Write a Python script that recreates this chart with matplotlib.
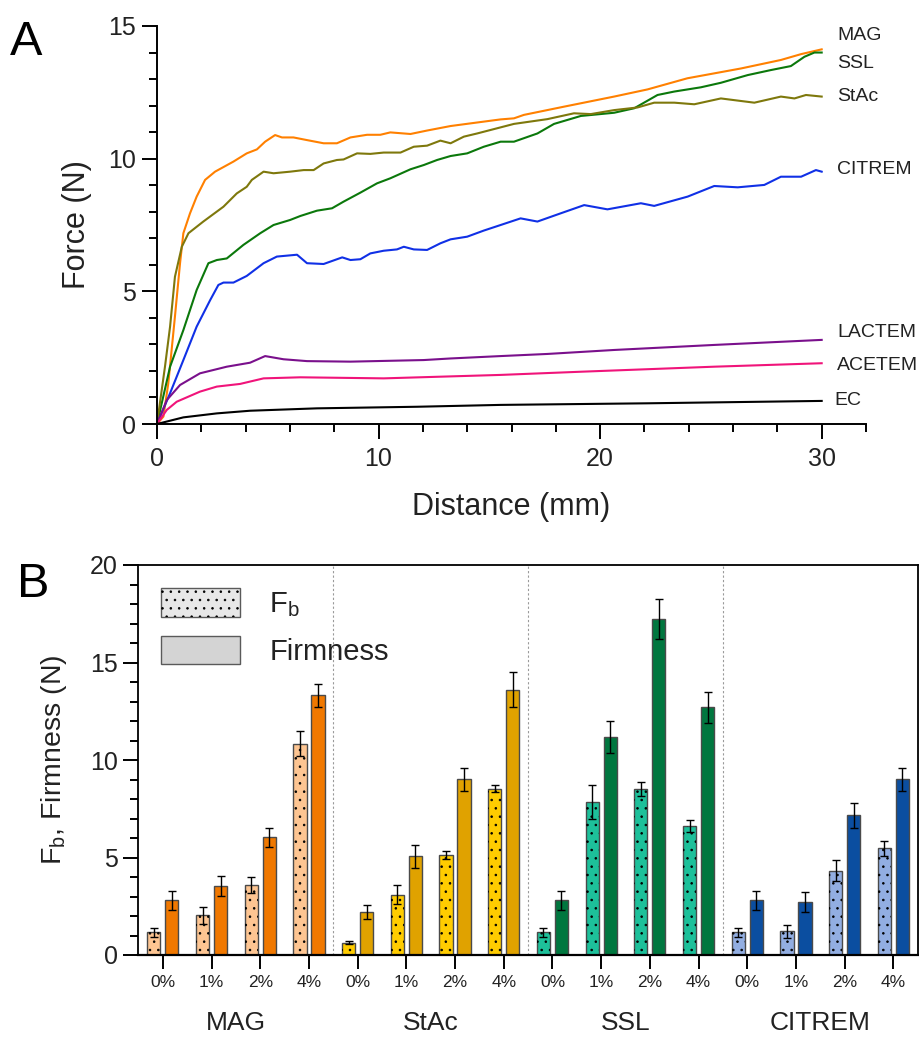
import numpy as np
import matplotlib
matplotlib.use("Agg")
import matplotlib.pyplot as plt
from matplotlib.patches import Patch
from matplotlib.legend_handler import HandlerTuple
from matplotlib.ticker import MultipleLocator, FixedLocator
import matplotlib.transforms as mtransforms

plt.rcParams['font.family'] = ['Liberation Sans', 'DejaVu Sans']
plt.rcParams['hatch.linewidth'] = 0.6
TXT = '#222222'

# ---------------- Panel A: force-distance curves ----------------
mag_x = [0, 0.29, 0.51, 0.81, 1.04, 1.19, 1.49, 1.79, 2.17, 2.62, 3.45, 4.05, 4.51, 4.88, 5.33,
         5.64, 6.16, 6.77, 7.52, 8.12, 8.73, 9.48, 10.08, 10.53, 11.44, 12.19, 13.25, 14.15,
         15.51, 16.11, 16.56, 18.37, 20.63, 22.14, 23.94, 26.36, 28.16, 29.07, 30.0]
mag_f = [0, 0.28, 1.53, 4.05, 6.06, 7.19, 7.94, 8.57, 9.20, 9.51, 9.89, 10.20, 10.35, 10.64, 10.89,
         10.80, 10.80, 10.70, 10.58, 10.58, 10.80, 10.90, 10.90, 10.99, 10.93, 11.06, 11.23, 11.33,
         11.48, 11.52, 11.65, 11.96, 12.34, 12.61, 13.03, 13.40, 13.72, 13.94, 14.12]

stac_x = [0, 0.36, 0.59, 0.81, 1.12, 1.42, 2.09, 3.00, 3.60, 4.05, 4.28, 4.81, 5.26, 6.01, 6.62,
          7.07, 7.52, 8.12, 8.42, 9.03, 9.63, 10.23, 10.99, 11.59, 12.19, 12.79, 13.25, 13.85,
          14.45, 15.51, 16.11, 17.62, 18.82, 19.58, 20.63, 21.69, 22.44, 23.35, 24.25, 25.45,
          26.96, 28.16, 28.77, 29.29, 30.0]
stac_f = [0, 2.16, 3.67, 5.55, 6.68, 7.19, 7.63, 8.19, 8.69, 8.94, 9.20, 9.51, 9.45, 9.51, 9.57,
          9.57, 9.82, 9.95, 9.97, 10.20, 10.18, 10.23, 10.23, 10.45, 10.49, 10.68, 10.58, 10.83,
          10.95, 11.18, 11.31, 11.49, 11.71, 11.68, 11.83, 11.93, 12.11, 12.11, 12.05, 12.27,
          12.11, 12.34, 12.27, 12.40, 12.34]

ssl_x = [0, 0.59, 1.19, 1.79, 2.32, 2.70, 3.15, 3.90, 4.66, 5.26, 6.01, 6.47, 7.22, 7.90, 8.42,
         9.18, 9.93, 10.53, 11.44, 12.04, 12.64, 13.25, 14.00, 14.75, 15.51, 16.11, 17.17, 17.92,
         19.13, 20.63, 21.54, 22.59, 23.35, 24.55, 25.45, 26.66, 27.71, 28.61, 29.22, 29.67, 30.0]
ssl_f = [0, 2.16, 3.54, 5.05, 6.06, 6.18, 6.24, 6.75, 7.19, 7.50, 7.69, 7.84, 8.04, 8.13, 8.38,
         8.72, 9.07, 9.26, 9.60, 9.76, 9.95, 10.10, 10.20, 10.45, 10.64, 10.64, 10.95, 11.31,
         11.61, 11.73, 11.90, 12.40, 12.53, 12.69, 12.86, 13.15, 13.34, 13.49, 13.84, 14.00, 14.00]

citrem_x = [0, 0.59, 1.19, 1.79, 2.40, 2.77, 3.00, 3.45, 4.05, 4.81, 5.41, 6.32, 6.77, 7.52, 8.36,
            8.73, 9.18, 9.63, 10.23, 10.83, 11.14, 11.59, 12.19, 12.79, 13.25, 14.00, 14.75, 15.51,
            16.41, 17.17, 18.22, 19.28, 20.33, 21.84, 22.44, 23.95, 25.15, 26.21, 27.41, 28.16,
            29.07, 29.74, 30.0]
citrem_f = [0, 1.16, 2.41, 3.67, 4.67, 5.24, 5.33, 5.33, 5.58, 6.06, 6.31, 6.38, 6.06, 6.03, 6.28,
            6.18, 6.21, 6.43, 6.53, 6.58, 6.68, 6.58, 6.56, 6.81, 6.96, 7.06, 7.29, 7.50,
            7.75, 7.63, 7.94, 8.25, 8.09, 8.32, 8.22, 8.57, 8.97, 8.92, 9.01, 9.32,
            9.32, 9.57, 9.51]

lactem_x = [0, 0.44, 1.04, 1.94, 3.15, 4.20, 4.88, 5.71, 6.77, 8.73, 12.04, 13.25, 15.51, 17.62,
            20.63, 25.15, 30.0]
lactem_f = [0, 0.90, 1.47, 1.91, 2.16, 2.31, 2.56, 2.44, 2.37, 2.35, 2.41, 2.47, 2.56, 2.64,
            2.79, 2.98, 3.17]

acetem_x = [0, 0.44, 0.89, 1.94, 2.70, 3.75, 4.81, 6.47, 10.23, 15.51, 19.13, 25.15, 30.0]
acetem_f = [0, 0.53, 0.84, 1.22, 1.41, 1.51, 1.72, 1.76, 1.72, 1.85, 1.97, 2.16, 2.29]

ec_x = [0, 1.19, 2.70, 4.20, 7.22, 11.74, 15.51, 22.14, 30.0]
ec_f = [0, 0.25, 0.40, 0.50, 0.59, 0.65, 0.72, 0.78, 0.87]

curve_names = ['MAG', 'SSL', 'StAc', 'CITREM', 'LACTEM', 'ACETEM', 'EC']
curve_data = {'MAG': (mag_x, mag_f), 'SSL': (ssl_x, ssl_f), 'StAc': (stac_x, stac_f),
              'CITREM': (citrem_x, citrem_f), 'LACTEM': (lactem_x, lactem_f),
              'ACETEM': (acetem_x, acetem_f), 'EC': (ec_x, ec_f)}
curve_colors = {'MAG': '#FF8000', 'SSL': '#0B780B', 'StAc': '#7E780C', 'CITREM': '#1030E6',
                'LACTEM': '#7A108C', 'ACETEM': '#F0147A', 'EC': '#000000'}
# label anchor positions (distance, force) at the right end of each curve
label_pos = {'MAG': (30.7, 14.63), 'SSL': (30.7, 13.58), 'StAc': (30.7, 12.33),
             'CITREM': (30.7, 9.61), 'LACTEM': (30.7, 3.45), 'ACETEM': (30.7, 2.19),
             'EC': (30.57, 0.88)}

# ---------------- Panel B: Fb and firmness ----------------
groups = ['MAG', 'StAc', 'SSL', 'CITREM']
levels = ['0%', '1%', '2%', '4%']

mag_fb = [1.16, 2.03, 3.59, 10.84]
mag_fb_err = [0.24, 0.45, 0.43, 0.65]
mag_firm = [2.80, 3.54, 6.03, 13.32]
mag_firm_err = [0.50, 0.50, 0.48, 0.60]

stac_fb = [0.62, 3.09, 5.13, 8.53]
stac_fb_err = [0.08, 0.50, 0.22, 0.19]
stac_firm = [2.19, 5.06, 9.01, 13.61]
stac_firm_err = [0.36, 0.60, 0.60, 0.89]

ssl_fb = [1.16, 7.86, 8.53, 6.63]
ssl_fb_err = [0.24, 0.87, 0.36, 0.31]
ssl_firm = [2.80, 11.18, 17.25, 12.70]
ssl_firm_err = [0.50, 0.84, 1.03, 0.80]

citrem_fb = [1.16, 1.21, 4.32, 5.47]
citrem_fb_err = [0.24, 0.34, 0.53, 0.39]
citrem_firm = [2.80, 2.70, 7.16, 9.01]
citrem_firm_err = [0.50, 0.51, 0.65, 0.58]

bar_data = {'MAG': (mag_fb, mag_fb_err, mag_firm, mag_firm_err),
            'StAc': (stac_fb, stac_fb_err, stac_firm, stac_firm_err),
            'SSL': (ssl_fb, ssl_fb_err, ssl_firm, ssl_firm_err),
            'CITREM': (citrem_fb, citrem_fb_err, citrem_firm, citrem_firm_err)}
fb_colors = {'MAG': '#FDC592', 'StAc': '#FFCC00', 'SSL': '#1DC09A', 'CITREM': '#92AEE2'}
firm_colors = {'MAG': '#F07800', 'StAc': '#E0A200', 'SSL': '#00773F', 'CITREM': '#0B4EA0'}

fig = plt.figure(figsize=(9.19, 10.37), dpi=100)

# ---- Panel A ----
axA = fig.add_axes([157 / 919, 1 - 424 / 1037, 709 / 919, 398 / 1037])
for name in curve_names:
    xs, fs = curve_data[name]
    axA.plot(xs, fs, color=curve_colors[name], lw=1.5, solid_joinstyle='round')
    lx, ly = label_pos[name]
    axA.text(lx, ly, name, fontsize=14, color=TXT, ha='left', va='center')

axA.set_xlim(0, 32)
axA.set_ylim(0, 15)
for side in ('top', 'right'):
    axA.spines[side].set_visible(False)
for side in ('left', 'bottom'):
    axA.spines[side].set_linewidth(1.4)
axA.xaxis.set_major_locator(FixedLocator([0, 10, 20, 30]))
axA.xaxis.set_minor_locator(MultipleLocator(2))
axA.yaxis.set_major_locator(MultipleLocator(5))
axA.yaxis.set_minor_locator(MultipleLocator(1))
axA.tick_params(which='major', length=10.8, width=1.4, labelsize=18, labelcolor=TXT)
axA.tick_params(which='minor', length=5.8, width=1.4)
axA.tick_params(axis='y', which='major', pad=4.3)
axA.tick_params(axis='x', which='major', pad=6.0)
axA.set_xlabel('Distance (mm)', fontsize=22, color=TXT)
axA.set_ylabel('Force (N)', fontsize=22, color=TXT)
axA.xaxis.set_label_coords(0.5, -0.172)
axA.yaxis.set_label_coords(-0.092, 0.5)

# ---- Panel B ----
axB = fig.add_axes([138 / 919, 1 - 955 / 1037, 779.7 / 919, 390 / 1037])
pos = np.arange(len(groups) * len(levels))
width = 0.27
offset = 0.185
for gi, g in enumerate(groups):
    fb, fb_err, firm, firm_err = bar_data[g]
    xs = pos[gi * 4:(gi + 1) * 4]
    axB.bar(xs - offset, fb, width, color=fb_colors[g], edgecolor='#4a4a4a', linewidth=1.0, zorder=2)
    axB.bar(xs - offset, fb, width, fill=False, edgecolor='black', linewidth=0, hatch='..', zorder=3)
    axB.bar(xs + offset, firm, width, color=firm_colors[g], edgecolor='#4a4a4a', linewidth=1.0, zorder=2)
    axB.errorbar(xs - offset, fb, yerr=fb_err, fmt='none', ecolor='black', elinewidth=1.0,
                 capsize=2.6, capthick=1.0, zorder=4)
    axB.errorbar(xs + offset, firm, yerr=firm_err, fmt='none', ecolor='black', elinewidth=1.0,
                 capsize=2.6, capthick=1.0, zorder=4)

for sep in (3.5, 7.5, 11.5):
    axB.axvline(sep, color='#9a9a9a', lw=0.8, ls=(0, (2, 2)), zorder=1)

axB.set_xlim(-0.51, 15.5)
axB.set_ylim(0, 20)
axB.set_xticks(pos)
axB.set_xticklabels(levels * len(groups), fontsize=12.5, color=TXT)
axB.yaxis.set_major_locator(MultipleLocator(5))
axB.yaxis.set_minor_locator(MultipleLocator(1))
for side in axB.spines:
    axB.spines[side].set_linewidth(1.3)
axB.spines['bottom'].set_linewidth(1.6)
axB.tick_params(axis='y', which='major', length=10.8, width=1.4, labelsize=18, labelcolor=TXT, pad=3.6)
axB.tick_params(axis='y', which='minor', length=5.8, width=1.4)
axB.tick_params(axis='x', which='major', length=10.0, width=1.4, pad=4.5)
axB.set_ylabel('F$_{\\mathregular{b}}$, Firmness (N)', fontsize=20.5, color=TXT)
axB.yaxis.set_label_coords(-0.089, 0.5)

trans = mtransforms.blended_transform_factory(axB.transData, axB.transAxes)
for gi, g in enumerate(groups):
    axB.text(pos[gi * 4:(gi + 1) * 4].mean(), -0.205, g, transform=trans, ha='center',
             va='bottom', fontsize=19, color=TXT)

fb_face = Patch(facecolor='#E8E8E8', edgecolor='#5a5a5a', linewidth=1.0)
fb_dots = Patch(fill=False, edgecolor='black', linewidth=0, hatch='..')
firm_face = Patch(facecolor='#D4D4D4', edgecolor='#5a5a5a', linewidth=1.0)
axB.legend([(fb_face, fb_dots), firm_face], ['F$_{\\mathregular{b}}$', 'Firmness'],
           handler_map={tuple: HandlerTuple(ndivide=1, pad=0)},
           loc='upper left', bbox_to_anchor=(0.0, 1.0), frameon=False, fontsize=21,
           handlelength=2.7, handleheight=1.15, handletextpad=1.0, labelspacing=0.55,
           borderaxespad=0.4, labelcolor=TXT)

fig.text(10 / 919, 1 - 55 / 1037, 'A', fontsize=35, color='black', ha='left', va='baseline')
fig.text(17 / 919, 1 - 597 / 1037, 'B', fontsize=35, color='black', ha='left', va='baseline')

fig.savefig('out.png', dpi=100)
